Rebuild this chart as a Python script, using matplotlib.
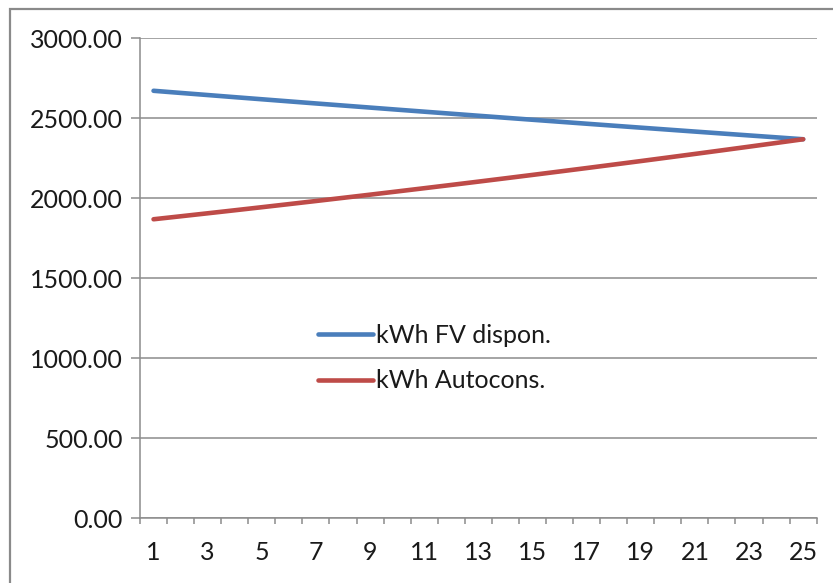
import matplotlib
matplotlib.use("Agg")
import matplotlib.pyplot as plt
from matplotlib.patches import Rectangle

# annual energy over the 25-year horizon (kWh)
years = list(range(1, 26))
kwh_fv = [2672.0, 2658.6, 2645.4, 2632.1, 2619.0, 2605.9, 2592.8, 2579.9, 2567.0,
          2554.1, 2541.4, 2528.7, 2516.0, 2503.4, 2490.9, 2478.5, 2466.1, 2453.8,
          2441.5, 2429.3, 2417.1, 2405.0, 2393.0, 2381.1, 2369.1]
kwh_auto = [1869.0, 1887.6, 1906.3, 1925.2, 1944.3, 1963.6, 1983.1, 2002.8, 2022.7,
            2042.8, 2063.1, 2083.5, 2104.2, 2125.1, 2146.2, 2167.5, 2189.0, 2210.8,
            2232.7, 2254.9, 2277.3, 2299.9, 2322.7, 2345.8, 2369.1]
series_names = ["kWh FV dispon.", "kWh Autocons."]
y_ticks = [0, 500, 1000, 1500, 2000, 2500, 3000]
x_labels = years[::2]

BLUE = "#4A7EBB"
RED = "#BE4B48"
GRID = "#8C8C8C"
TEXT = "#1a1a1a"
FS = 18

plt.rcParams["font.family"] = ["Lato", "DejaVu Sans"]

W, H = 833, 583
fig = plt.figure(figsize=(W / 100, H / 100), dpi=100)
fig.patch.set_facecolor("white")

# chart frame, runs off the right and bottom edges
fig.patches.append(Rectangle((10 / W, -0.1), 1.2, 1 - 8.7 / H + 0.1,
                             transform=fig.transFigure, fill=False,
                             edgecolor="#8A8A8A", linewidth=1.6))

ax = fig.add_axes([140 / W, 1 - 518.3 / H, (816.7 - 140) / W, (518.3 - 38.3) / H])
ax.plot(years, kwh_fv, color=BLUE, linewidth=3.3, solid_capstyle="round",
        label=series_names[0], zorder=3)
ax.plot(years, kwh_auto, color=RED, linewidth=3.3, solid_capstyle="round",
        label=series_names[1], zorder=3)

ax.set_xlim(0.5, 25.5)
ax.set_ylim(0, 3000)
ax.set_yticks(y_ticks)
ax.set_yticklabels([f"{v:.2f}" for v in y_ticks])
ax.set_xticks(x_labels)
ax.set_xticklabels([str(v) for v in x_labels])
ax.set_xticks([y + 0.5 for y in range(0, 26)], minor=True)

ax.yaxis.grid(True, color=GRID, linewidth=1.1)
ax.set_axisbelow(True)
for side in ("top", "right"):
    ax.spines[side].set_visible(False)
for side in ("left", "bottom"):
    ax.spines[side].set_color(GRID)
    ax.spines[side].set_linewidth(1.1)

ax.tick_params(axis="y", length=6.5, width=1.1, color=GRID, pad=6,
               labelsize=FS, labelcolor=TEXT)
ax.tick_params(axis="x", which="major", length=0, pad=16,
               labelsize=FS, labelcolor=TEXT)
ax.tick_params(axis="x", which="minor", length=4.5, width=1.1, color=GRID)

leg = ax.legend(loc="upper left", bbox_to_anchor=(318 / W, 1 - 324 / H),
                bbox_transform=fig.transFigure, frameon=False, fontsize=FS,
                handlelength=2.2, handletextpad=0.12, labelspacing=0.9,
                borderaxespad=0, borderpad=0)
for t in leg.get_texts():
    t.set_color(TEXT)

fig.savefig("out.png", dpi=100)
